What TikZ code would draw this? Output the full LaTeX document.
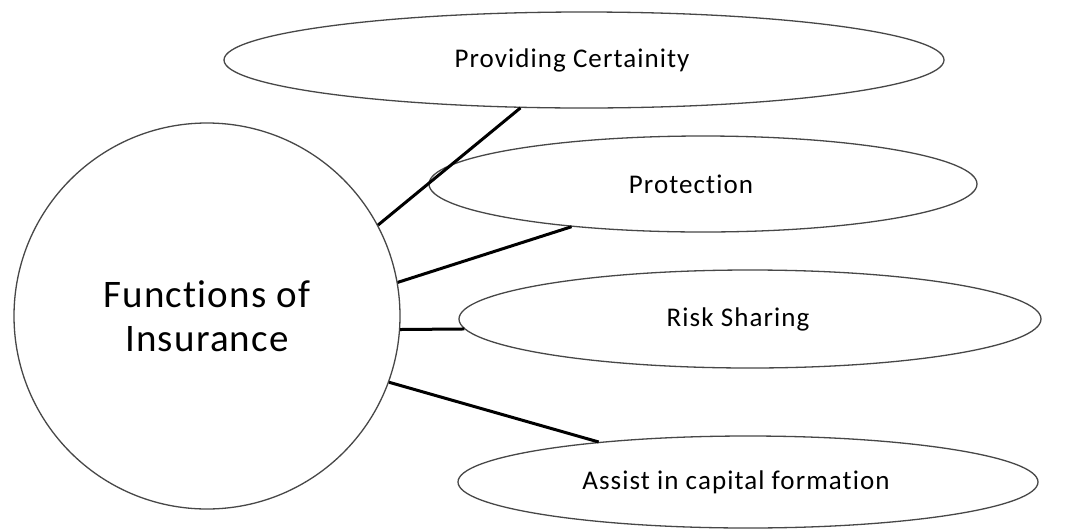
\documentclass[tikz,border=0pt]{standalone}
\usepackage{fontspec}
\setmainfont{Carlito}[Ligatures=NoCommon]
\usetikzlibrary{shapes.geometric}
\begin{document}
\begin{tikzpicture}[x=1pt,y=-1pt,
  bubble/.style={ellipse, draw=black!72, line width=1.3pt, inner sep=0pt, fill=white,
                 font=\fontsize{27}{31}\selectfont\addfontfeatures{LetterSpace=4},
                 execute at begin node={\hspace*{-24pt}}},
  hub/.style={circle, draw=black!72, line width=1.3pt, inner sep=0pt, fill=white, align=center,
              font=\fontsize{39}{44}\selectfont\addfontfeatures{LetterSpace=3}},
  link/.style={line width=3pt, black}]
\useasboundingbox[fill=white] (0,0) rectangle (1068,531);
\node[hub, minimum size=386pt] (c) at (207,316) {Functions of\\Insurance};
\node[bubble, minimum width=720pt, minimum height=96pt] (e1) at (584,60) {Providing Certainity};
\node[bubble, minimum width=548pt, minimum height=96pt] (e2) at (703,184) {Protection};
\node[bubble, minimum width=582pt, minimum height=98pt] (e3) at (750,319) {Risk Sharing};
\node[bubble, minimum width=580pt, minimum height=92pt] (e4) at (748,482) {Assist in capital formation};
\draw[link] (c.28.5) -- (e1.217.5);
\draw[link] (c.10) -- (e2.198);
\draw[link] (c.-4.7) -- (e3.182);
\draw[link] (c.-20) -- (e4.165);
\end{tikzpicture}
\end{document}
